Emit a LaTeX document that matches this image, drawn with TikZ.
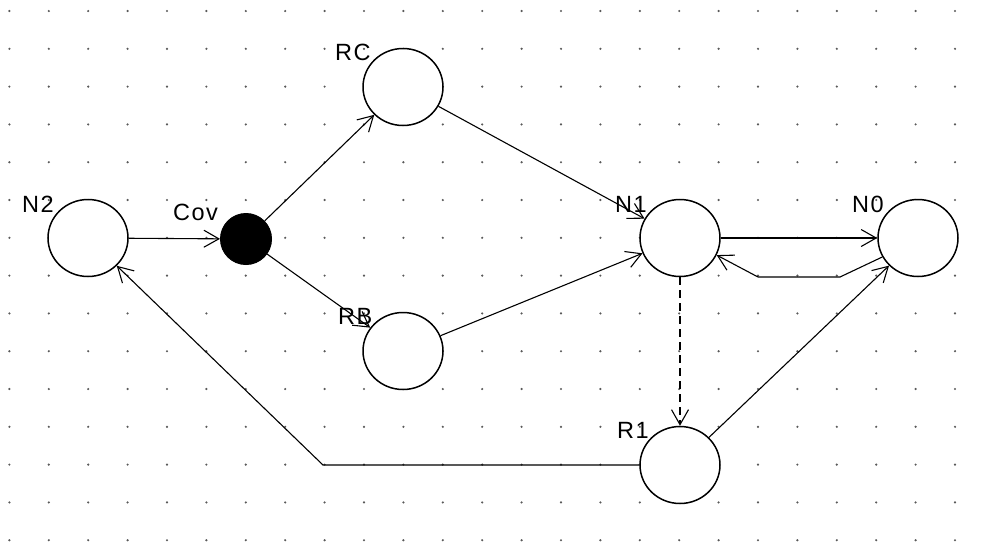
\documentclass[tikz,border=0pt]{standalone}
\usepackage{fontspec}
\setmainfont{Liberation Sans}
\usetikzlibrary{arrows.meta,shapes.geometric}
\begin{document}
\begin{tikzpicture}[x=1pt,y=-1pt,
  place/.style={draw=black,line width=1.5pt,ellipse,minimum width=80pt,minimum height=77pt,inner sep=0pt,fill=white},
  dot/.style={circle,fill=black,draw=black,line width=1pt,minimum size=51pt,inner sep=0pt},
  lbl/.style={anchor=base west,inner sep=0pt,font=\fontsize{23.5}{25}\selectfont\addfontfeature{LetterSpace=6}},
  arc/.style={line width=1.1pt,-{Straight Barb[length=15pt,width=17pt,line width=1.1pt]}},
  dashedarc/.style={arc,dash pattern=on 8pt off 5pt}]
\useasboundingbox (0,0) rectangle (994,547);
\fill[white] (0,0) rectangle (994,547);
\foreach \i in {0,...,24}{\foreach \j in {0,...,14}{
  \fill[black!65] ({9.4+39.4*\i},{11+37.8*\j}) circle (1.2pt);}}
\node[place] (N2) at (88,238) {};
\node[dot] (Cov) at (246,239) {};
\node[place] (RC) at (403,87) {};
\node[place] (RB) at (403,351) {};
\node[place] (N1) at (680,238) {};
\node[place] (N0) at (918,238) {};
\node[place] (R1) at (680,465) {};
\node[lbl] (lN2) at (22,212) {N2};
\node[lbl] (lCov) at (173,220) {Cov};
\node[lbl] (lRC) at (335,60) {RC};
\node[lbl] (lRB) at (338,324) {RB};
\node[lbl] (lN1) at (615,212) {N1};
\node[lbl] (lN0) at (852,212) {N0};
\node[lbl] (lR1) at (617,438) {R1};
\coordinate (b1) at (840,277);
\coordinate (b2) at (758,277);
\coordinate (b3) at (323,465);
\draw[arc] (N2) -- (Cov);
\draw[arc] (Cov) -- (RC);
\draw[arc] (Cov) -- (RB);
\draw[arc] (RC) -- (N1);
\draw[arc] (RB) -- (N1);
\draw[arc] (N1) -- (N0);
\draw[arc] (N0.208) -- (b1) -- (b2) -- (N1.-25);
\draw[dashedarc] (N1) -- (R1);
\draw[arc] (R1) -- (N0);
\draw[arc] (R1.west) -- (b3) -- (N2);
\end{tikzpicture}
\end{document}
